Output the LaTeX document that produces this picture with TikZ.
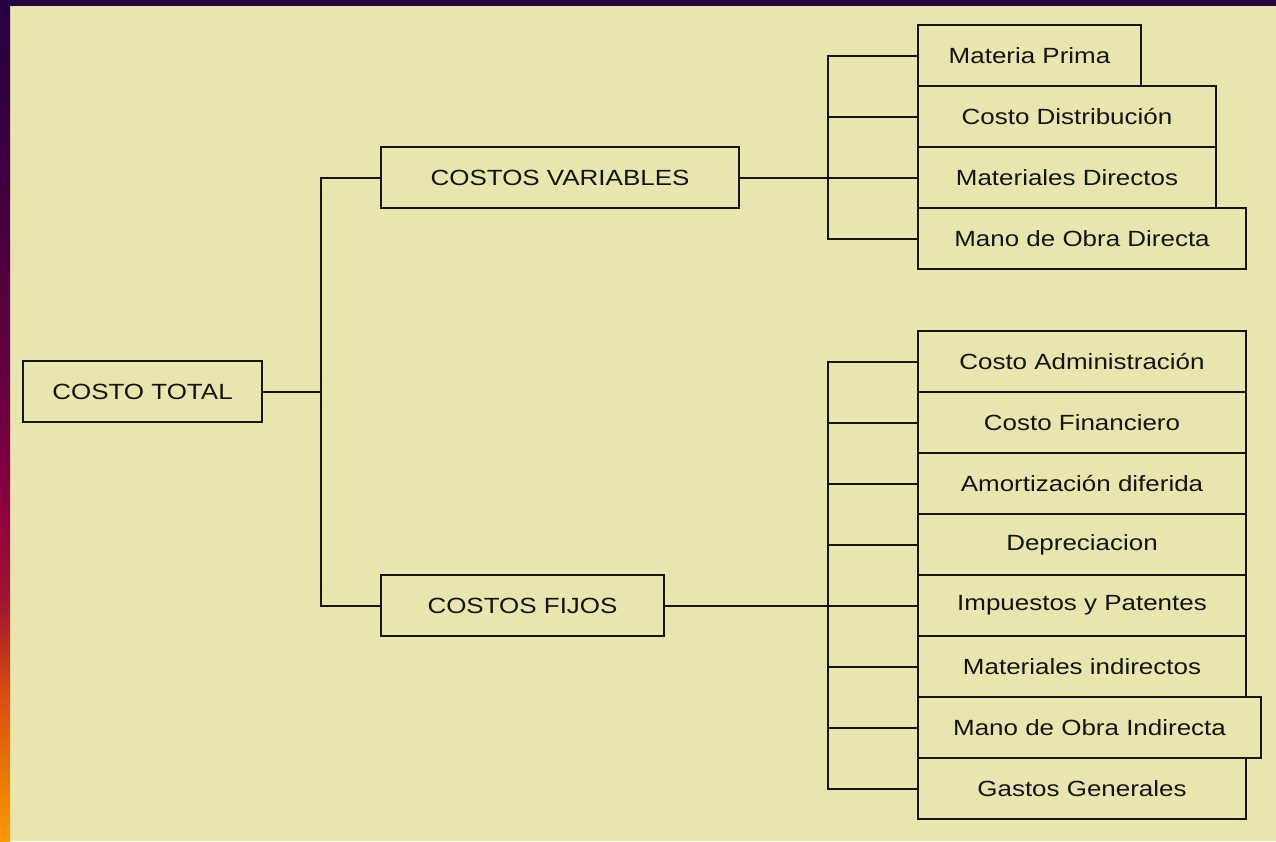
\documentclass[tikz,border=0pt]{standalone}
\usepackage{fontspec}
\setmainfont{Liberation Sans}[FakeStretch=1.18]
\usetikzlibrary{positioning}
\definecolor{paper}{HTML}{E8E6AE}
\definecolor{frametop}{HTML}{260040}
\definecolor{ink}{HTML}{141410}
\definecolor{stripa}{HTML}{44003F}
\definecolor{stripb}{HTML}{6A0040}
\definecolor{stripc}{HTML}{8C0040}
\definecolor{stripd}{HTML}{A01530}
\definecolor{stripe}{HTML}{D85010}
\definecolor{stripf}{HTML}{F99A00}
\pgfdeclareverticalshading{leftstrip}{100bp}{%
  color(0bp)=(stripf); color(25bp)=(stripf);
  color(33.4bp)=(stripe); color(39.3bp)=(stripd);
  color(45bp)=(stripc); color(51.2bp)=(stripb);
  color(63.1bp)=(stripa); color(75bp)=(frametop);
  color(100bp)=(frametop)}

\begin{document}
\begin{tikzpicture}[
  x=1pt, y=-1pt,
  font=\fontsize{22}{26}\selectfont,
  box/.style={draw=ink, line width=2pt, fill=paper, minimum height=61pt, inner sep=0pt, outer sep=0pt, align=center, text=ink},
  leaf/.style={box, anchor=west},
  link/.style={draw=ink, line width=2pt}
]
% frame and background
\useasboundingbox (0,0) rectangle (1276,841);
\fill[paper] (0,0) rectangle (1276,841);
\fill[frametop] (0,0) rectangle (1276,6);
\shade[shading=leftstrip] (0,0) rectangle (10,841);

% main boxes
\node[box, minimum width=239pt] (total) at (142.5,391.5) {COSTO TOTAL};
\node[box, minimum width=358pt] (var) at (560,177.5) {COSTOS VARIABLES};
\node[box, minimum width=283pt] (fijo) at (522.5,605.5) {COSTOS FIJOS};

% variable costs
\node[leaf, minimum width=223pt] (mp) at (918,55.5) {Materia Prima};
\node[leaf, minimum width=298pt, below=0pt of mp.south west, anchor=north west] (cd) {Costo Distribución};
\node[leaf, minimum width=298pt, below=0pt of cd.south west, anchor=north west] (md) {Materiales Directos};
\node[leaf, minimum width=328pt, below=0pt of md.south west, anchor=north west] (mo) {Mano de Obra Directa};

% fixed costs
\node[leaf, minimum width=328pt] (ca) at (918,361.5) {Costo Administración};
\node[leaf, minimum width=328pt, below=0pt of ca.south west, anchor=north west] (cf) {Costo Financiero};
\node[leaf, minimum width=328pt, below=0pt of cf.south west, anchor=north west] (ad) {Amortización diferida};
\node[leaf, minimum width=328pt, below=0pt of ad.south west, anchor=north west] (dep) {Depreciacion};
\node[leaf, minimum width=328pt, below=0pt of dep.south west, anchor=north west] (imp) {Impuestos y Patentes};
\node[leaf, minimum width=328pt, below=0pt of imp.south west, anchor=north west] (mi) {Materiales indirectos};
\node[leaf, minimum width=343pt, below=0pt of mi.south west, anchor=north west] (moi) {Mano de Obra Indirecta};
\node[leaf, minimum width=328pt, below=0pt of moi.south west, anchor=north west] (gg) {Gastos Generales};

% bus lines
\coordinate (bus) at (321,0);
\coordinate (busr) at (828,0);

\draw[link] (total.east) -- (total.east -| bus);
\draw[link] (var.west) -- (var.west -| bus) -- (fijo.west -| bus) -- (fijo.west);

\draw[link] (var.east) -- (md.west);
\draw[link] (mp.west) -- (mp.west -| busr) -- (mo.west -| busr) -- (mo.west);
\draw[link] (cd.west) -- (cd.west -| busr);

\draw[link] (fijo.east) -- (imp.west);
\draw[link] (ca.west) -- (ca.west -| busr) -- (gg.west -| busr) -- (gg.west);
\foreach \n in {cf,ad,dep,mi,moi}
  \draw[link] (\n.west) -- (\n.west -| busr);
\end{tikzpicture}
\end{document}
